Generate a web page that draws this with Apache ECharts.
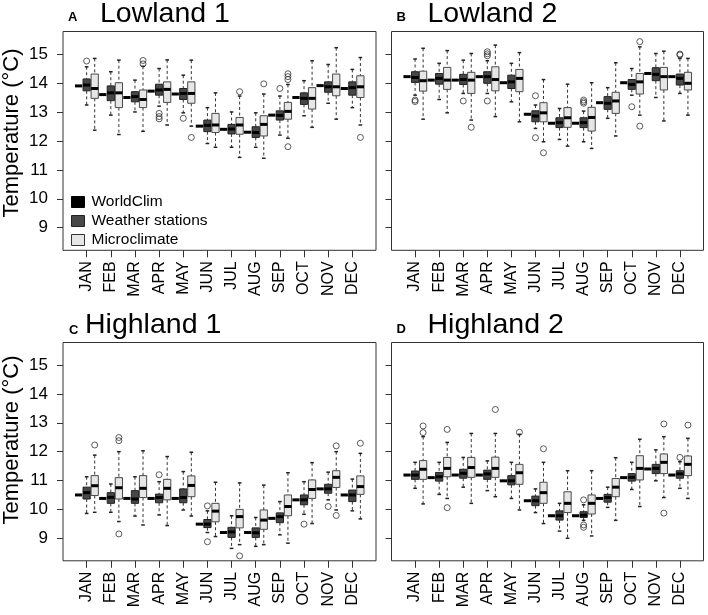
<!DOCTYPE html>
<html><head><meta charset="utf-8">
<script src="https://cdn.jsdelivr.net/npm/echarts@6/dist/echarts.min.js"></script>
<style>html,body{margin:0;padding:0;background:#fff}#c{width:708px;height:615px}</style>
</head><body><div id="c"></div>
<script>
// ---------- labels ----------
const months = ['JAN','FEB','MAR','APR','MAY','JUN','JUL','AUG','SEP','OCT','NOV','DEC'];
const yTicks = [9,10,11,12,13,14,15];
const panelTitles = ['Lowland 1','Lowland 2','Highland 1','Highland 2'];
const panelLetters = ['A','B','C','D'];
const groupNames = ['WorldClim','Weather stations','Microclimate'];
const yTitle = 'Temperature (°C)';

// ---------- data: [lower whisker, Q1, median, Q3, upper whisker]; outliers: [monthIndex, value] ----------
const lowland1WorldClim = [13.9, 13.6, 13.5, 13.72, 13.62, 12.51, 12.4, 12.3, 12.89, 13.5, 13.91, 13.81];
const lowland1Stations = [
  [13.24,13.73,13.93,14.14,14.56],[12.89,13.39,13.66,13.9,14.39],[13.0,13.35,13.53,13.7,14.1],
  [13.2,13.58,13.76,13.96,14.5],[12.97,13.43,13.64,13.81,14.27],[11.91,12.32,12.54,12.72,13.15],
  [11.78,12.24,12.41,12.57,13.0],[11.78,12.12,12.29,12.49,12.97],[12.2,12.72,12.88,13.04,13.55],
  [12.87,13.26,13.47,13.66,14.08],[13.3,13.68,13.87,14.04,14.64],[13.15,13.58,13.84,14.04,14.47]];
const lowland1StationsOut = [[0,14.76],[3,12.95],[3,12.84],[3,12.76],[4,12.78],[8,13.81]];
const lowland1Micro = [
  [12.37,13.47,13.81,14.31,14.85],[12.22,13.15,13.66,14.01,14.79],[12.33,13.15,13.43,13.76,14.58],
  [12.55,13.33,13.78,14.04,14.8],[12.51,13.3,13.64,14.04,14.79],[11.78,12.29,12.55,12.95,13.66],
  [11.43,12.23,12.55,12.81,13.55],[11.4,12.17,12.57,12.87,13.62],[12.09,12.75,13.02,13.33,13.95],
  [12.47,13.1,13.47,13.84,14.77],[12.75,13.56,13.87,14.31,15.22],[12.55,13.5,13.87,14.25,14.88]];
const lowland1MicroOut = [[2,14.78],[2,14.66],[4,12.12],[6,13.7],[7,13.97],[8,14.32],[8,14.22],[8,14.12],[8,11.8],[11,12.12]];

const lowland2WorldClim = [14.22, 14.1, 14.1, 14.22, 14.01, 12.92, 12.61, 12.61, 13.32, 14.01, 14.33, 14.22];
const lowland2Stations = [
  [13.58,14.02,14.19,14.39,14.83],[13.43,13.96,14.16,14.33,14.68],[13.64,13.95,14.12,14.3,14.79],
  [13.64,13.99,14.22,14.39,14.77],[13.35,13.81,14.04,14.27,14.68],[12.43,12.66,12.86,13.04,13.24],
  [12.05,12.46,12.63,12.8,13.12],[11.97,12.46,12.63,12.8,13.03],[12.78,13.09,13.3,13.53,13.84],
  [13.58,13.78,13.95,14.12,14.5],[13.5,14.08,14.3,14.53,15.02],[13.64,13.93,14.16,14.31,14.85]];
const lowland2StationsOut = [[0,13.41],[0,13.36],[2,13.38],[3,15.08],[3,15.01],[3,14.94],[3,13.38],[5,13.56],[5,12.11],[7,13.41],[7,13.35],[7,13.3],[9,13.18],[11,15.0],[11,14.97]];
const lowland2Micro = [
  [12.75,13.72,14.08,14.41,15.2],[12.97,13.78,14.1,14.54,15.12],[12.72,13.64,14.1,14.37,15.02],
  [12.84,13.73,14.12,14.56,15.31],[12.66,13.7,14.16,14.47,15.05],[11.97,12.66,12.97,13.32,14.12],
  [11.82,12.47,12.8,13.15,13.96],[11.74,12.34,12.81,13.16,14.01],[12.17,12.95,13.38,13.68,14.7],
  [12.89,13.62,14.04,14.33,15.25],[12.69,13.76,14.22,14.54,15.1],[12.89,13.76,13.99,14.37,14.85]];
const lowland2MicroOut = [[2,12.47],[5,11.59],[9,15.43],[9,12.51]];

const highland1WorldClim = [10.5, 10.38, 10.38, 10.38, 10.38, 9.49, 9.2, 9.2, 9.69, 10.33, 10.71, 10.5];
const highland1Stations = [
  [9.86,10.36,10.58,10.77,11.13],[9.9,10.21,10.42,10.58,10.88],[9.77,10.21,10.36,10.65,11.13],
  [9.81,10.23,10.41,10.53,10.96],[9.98,10.23,10.41,10.71,11.31],[9.2,9.37,9.49,9.65,9.95],
  [8.65,9.03,9.22,9.38,9.78],[8.72,9.03,9.19,9.36,9.72],[9.12,9.54,9.75,9.88,10.27],
  [9.83,10.16,10.33,10.5,10.96],[10.33,10.56,10.71,10.87,11.29],[9.95,10.27,10.5,10.67,11.05]];
const highland1StationsOut = [[3,11.2],[5,10.12],[5,8.88],[9,9.49],[10,10.1]];
const highland1Micro = [
  [9.9,10.48,10.82,11.17,11.88],[9.58,10.36,10.75,11.1,12.0],[9.46,10.41,10.73,11.17,12.03],
  [9.44,10.33,10.73,11.04,11.83],[9.77,10.44,10.83,11.16,11.98],[9.06,9.57,9.94,10.21,10.94],
  [8.78,9.36,9.75,10.0,10.92],[8.78,9.31,9.63,9.98,10.84],[8.83,9.78,10.1,10.5,11.27],
  [9.51,10.38,10.69,11.02,11.62],[9.98,10.76,11.11,11.34,12.0],[9.67,10.52,10.79,11.16,11.94]];
const highland1MicroOut = [[0,12.23],[1,12.49],[1,12.38],[1,9.15],[6,8.39],[10,12.2],[10,9.79],[11,12.29]];

const highland2WorldClim = [11.19, 11.1, 11.19, 11.19, 10.99, 10.3, 9.78, 9.78, 10.38, 11.1, 11.4, 11.19];
const highland2Stations = [
  [10.73,11.04,11.19,11.33,11.63],[10.52,10.98,11.13,11.28,11.63],[10.77,11.08,11.25,11.39,11.8],
  [10.65,11.04,11.23,11.36,11.68],[10.38,10.85,10.99,11.17,11.63],[9.89,10.13,10.3,10.46,10.71],
  [9.25,9.63,9.78,9.95,10.21],[9.62,9.72,9.8,9.92,10.16],[10.07,10.25,10.41,10.52,10.77],
  [10.69,10.98,11.11,11.24,11.63],[10.99,11.24,11.42,11.56,12.06],[10.73,11.08,11.23,11.34,11.65]];
const highland2StationsOut = [[7,10.33],[7,9.46],[7,9.38],[11,11.8]];
const highland2Micro = [
  [10.19,11.04,11.39,11.69,12.52],[10.38,11.13,11.42,11.8,12.32],[10.21,11.11,11.45,11.8,12.63],
  [10.44,11.11,11.42,11.81,12.63],[9.98,10.87,11.27,11.56,12.6],[9.51,10.21,10.58,10.94,11.63],
  [9.0,9.89,10.21,10.61,11.34],[9.08,9.84,10.21,10.5,11.34],[9.62,10.44,10.77,11.07,11.79],
  [10.1,11.02,11.42,11.86,12.43],[10.41,11.24,11.63,11.92,12.52],[10.38,11.17,11.56,11.85,12.46]];
const highland2MicroOut = [[0,12.89],[0,12.66],[1,12.77],[1,10.06],[3,13.46],[4,12.67],[5,12.1],[10,12.96],[10,9.87],[11,12.92]];

// ---------- layout / style ----------
const panels = [
  {wc: lowland1WorldClim, ws: lowland1Stations, wsOut: lowland1StationsOut, mc: lowland1Micro, mcOut: lowland1MicroOut},
  {wc: lowland2WorldClim, ws: lowland2Stations, wsOut: lowland2StationsOut, mc: lowland2Micro, mcOut: lowland2MicroOut},
  {wc: highland1WorldClim, ws: highland1Stations, wsOut: highland1StationsOut, mc: highland1Micro, mcOut: highland1MicroOut},
  {wc: highland2WorldClim, ws: highland2Stations, wsOut: highland2StationsOut, mc: highland2Micro, mcOut: highland2MicroOut}
];
const gridBoxes = [
  {left: 63, top: 31.5, width: 313, height: 218.8},
  {left: 391.5, top: 31.5, width: 312, height: 218.8},
  {left: 63, top: 342.5, width: 313, height: 218.3},
  {left: 391.5, top: 342.5, width: 312, height: 218.3}
];
const FONT = "'Liberation Sans', Arial, sans-serif";
const NARROW = "'Liberation Sans Narrow', 'Liberation Sans', Arial, sans-serif";
const X_MIN = -0.94, X_MAX = 37.94, Y_MIN = 8.22, Y_MAX = 15.78;
const BOX_W = 0.9, STAPLE_W = 0.45;
const COL = {wsFill: '#484848', wsLine: '#222', mcFill: '#e6e6e6', mcLine: '#4a4a4a'};
const tickPos = months.map((m, k) => k * 3 + 2);

function boxRenderer(fill, stroke) {
  return function (params, api) {
    const x = api.value(0);
    const cx = api.coord([x, api.value(3)])[0];
    const yLo = api.coord([x, api.value(1)])[1];
    const yQ1 = api.coord([x, api.value(2)])[1];
    const yMd = api.coord([x, api.value(3)])[1];
    const yQ3 = api.coord([x, api.value(4)])[1];
    const yHi = api.coord([x, api.value(5)])[1];
    const hw = api.size([BOX_W, 0])[0] / 2;
    const sw = api.size([STAPLE_W, 0])[0] / 2;
    const dash = {stroke: '#333', lineWidth: 1, lineDash: [3, 2.5]};
    const cap = {stroke: '#222', lineWidth: 1.5};
    return {type: 'group', children: [
      {type: 'line', shape: {x1: cx, y1: yHi, x2: cx, y2: yQ3}, style: dash},
      {type: 'line', shape: {x1: cx, y1: yQ1, x2: cx, y2: yLo}, style: dash},
      {type: 'line', shape: {x1: cx - sw, y1: yHi, x2: cx + sw, y2: yHi}, style: cap},
      {type: 'line', shape: {x1: cx - sw, y1: yLo, x2: cx + sw, y2: yLo}, style: cap},
      {type: 'rect', shape: {x: cx - hw, y: yQ3, width: 2 * hw, height: yQ1 - yQ3}, style: {fill: fill, stroke: stroke, lineWidth: 1}},
      {type: 'line', shape: {x1: cx - hw, y1: yMd, x2: cx + hw, y2: yMd}, style: {stroke: '#000', lineWidth: 3}}
    ]};
  };
}
function wcRenderer(params, api) {
  const p = api.coord([api.value(0), api.value(1)]);
  const hw = api.size([BOX_W, 0])[0] / 2;
  return {type: 'line', shape: {x1: p[0] - hw, y1: p[1], x2: p[0] + hw, y2: p[1]}, style: {stroke: '#000', lineWidth: 3}};
}

const grid = [], xAxis = [], yAxis = [], series = [];
panels.forEach((p, i) => {
  grid.push(Object.assign({show: true, borderColor: '#333', borderWidth: 1, backgroundColor: 'transparent', containLabel: false, outerBoundsMode: 'none'}, gridBoxes[i]));
  xAxis.push({
    type: 'value', gridIndex: i, min: X_MIN, max: X_MAX,
    axisLine: {show: false, onZero: false}, splitLine: {show: false},
    axisTick: {show: true, customValues: tickPos, length: 7, lineStyle: {color: '#333', width: 1}},
    axisLabel: {customValues: tickPos, formatter: v => months[Math.round((v - 2) / 3)], rotate: 90, margin: 11,
      fontFamily: FONT, fontSize: 16, color: '#000'}
  });
  yAxis.push({
    type: 'value', gridIndex: i, min: Y_MIN, max: Y_MAX,
    axisLine: {show: false, onZero: false}, splitLine: {show: false},
    axisTick: {show: true, customValues: yTicks, length: 6, lineStyle: {color: '#333', width: 1}},
    axisLabel: {show: i % 2 === 0, customValues: yTicks, margin: 15, fontFamily: NARROW, fontSize: 17, color: '#000'}
  });
  series.push({
    type: 'custom', name: groupNames[0], xAxisIndex: i, yAxisIndex: i, silent: true,
    itemStyle: {color: '#000'}, encode: {x: 0, y: 1},
    data: p.wc.map((v, k) => [k * 3 + 1, v]), renderItem: wcRenderer
  });
  series.push({
    type: 'custom', name: groupNames[1], xAxisIndex: i, yAxisIndex: i, silent: true,
    itemStyle: {color: COL.wsFill, borderColor: COL.wsLine}, encode: {x: 0, y: [1, 2, 3, 4, 5]},
    data: p.ws.map((s, k) => [k * 3 + 2].concat(s)), renderItem: boxRenderer(COL.wsFill, COL.wsLine)
  });
  series.push({
    type: 'custom', name: groupNames[2], xAxisIndex: i, yAxisIndex: i, silent: true,
    itemStyle: {color: COL.mcFill, borderColor: COL.mcLine}, encode: {x: 0, y: [1, 2, 3, 4, 5]},
    data: p.mc.map((s, k) => [k * 3 + 3].concat(s)), renderItem: boxRenderer(COL.mcFill, COL.mcLine)
  });
  const outStyle = {color: 'rgba(0,0,0,0)', borderColor: '#333', borderWidth: 1};
  series.push({
    type: 'scatter', name: 'ws-out-' + i, xAxisIndex: i, yAxisIndex: i, silent: true,
    symbol: 'circle', symbolSize: 6, itemStyle: outStyle,
    data: p.wsOut.map(([k, v]) => [k * 3 + 2, v])
  });
  series.push({
    type: 'scatter', name: 'mc-out-' + i, xAxisIndex: i, yAxisIndex: i, silent: true,
    symbol: 'circle', symbolSize: 6, itemStyle: outStyle,
    data: p.mcOut.map(([k, v]) => [k * 3 + 3, v])
  });
});

const titlePos = [
  {lx: 68, ly: 17.8, tx: 100, ty: 14.5},
  {lx: 396.5, ly: 17.8, tx: 427.5, ty: 14.5},
  {lx: 69, ly: 330, tx: 85, ty: 325.5},
  {lx: 396.5, ly: 329.5, tx: 427.5, ty: 325.5}
];
const graphic = [];
titlePos.forEach((t, i) => {
  graphic.push({type: 'text', x: t.lx, y: t.ly, silent: true,
    style: {text: panelLetters[i], fontFamily: FONT, fontSize: 13, fontWeight: 'bold', fill: '#000', align: 'left', verticalAlign: 'middle'}});
  graphic.push({type: 'text', x: t.tx, y: t.ty, silent: true,
    style: {text: panelTitles[i], fontFamily: FONT, fontSize: 28.5, fill: '#000', align: 'left', verticalAlign: 'middle'}});
});
[133, 440].forEach(cy => {
  graphic.push({type: 'text', x: 12, y: cy, rotation: Math.PI / 2, silent: true,
    style: {text: yTitle, fontFamily: FONT, fontSize: 22, fill: '#000', align: 'center', verticalAlign: 'middle'}});
});

const chart = echarts.init(document.getElementById('c'), null, {renderer: 'canvas'});
chart.setOption({
  animation: false,
  backgroundColor: '#fff',
  grid, xAxis, yAxis, series, graphic,
  legend: {
    show: true, selectedMode: false, orient: 'vertical', left: 71, top: 194, padding: 0,
    itemWidth: 13, itemHeight: 11, itemGap: 3,
    textStyle: {fontFamily: FONT, fontSize: 15.5, color: '#000', padding: [0, 0, 0, 2]},
    data: [
      {name: groupNames[0], icon: 'rect', itemStyle: {color: '#000', borderColor: '#000', borderWidth: 1}},
      {name: groupNames[1], icon: 'rect', itemStyle: {color: COL.wsFill, borderColor: '#222', borderWidth: 1}},
      {name: groupNames[2], icon: 'rect', itemStyle: {color: COL.mcFill, borderColor: '#333', borderWidth: 1}}
    ]
  }
});
</script></body></html>
